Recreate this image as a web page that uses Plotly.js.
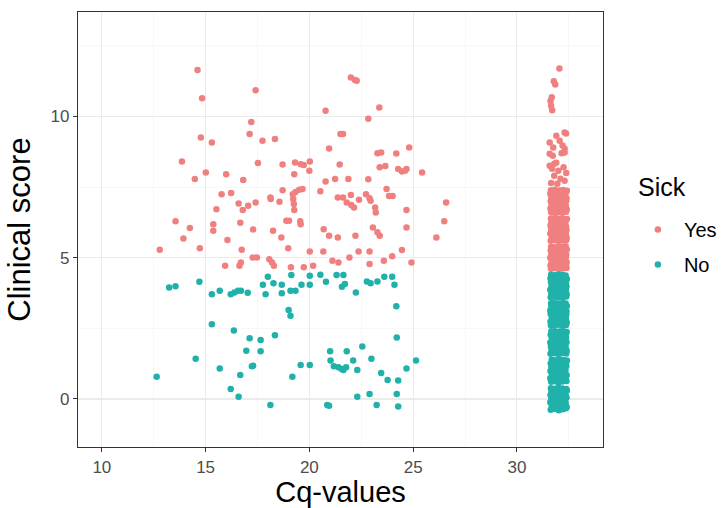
<!DOCTYPE html>
<html>
<head>
<meta charset="utf-8">
<script src="https://cdn.plot.ly/plotly-3.0.1.min.js"></script>
<style>html,body{margin:0;padding:0;background:#fff;}#chart{width:723px;height:508px;}</style>
</head>
<body>
<div id="chart"></div>
<script>
// Sick = Yes, samples with a measured Cq
const yesCq = [14.61,14.83,17.41,22.0,22.2,22.28,20.78,23.37,17.2,22.84,14.77,15.3,17.12,17.74,18.34,21.5,21.62,20.95,24.81,13.86,17.52,18.71,19.31,19.58,19.73,20.02,20.0,21.46,23.28,23.46,24.19,23.39,23.66,24.28,24.46,24.61,24.68,25.43,15.01,15.99,14.48,16.81,19.27,20.78,21.24,21.88,22.84,15.77,16.23,16.59,16.79,17.05,17.41,18.12,18.14,18.56,18.71,19.2,19.33,19.51,19.67,19.22,19.25,19.27,20.53,21.37,21.62,22.0,21.8,22.02,22.15,22.39,22.73,22.9,22.95,23.17,23.2,23.72,23.84,24.01,24.68,26.59,26.5,26.12,15.52,13.55,14.24,13.93,15.37,15.37,16.67,17.29,16.05,18.25,18.65,18.89,19.02,19.56,19.58,20.69,20.95,21.37,22.22,23.06,23.28,23.39,24.68,12.79,14.72,16.74,16.7,16.63,17.27,17.47,18.07,18.2,18.29,15.94,18.98,19.11,19.73,20.02,20.18,20.67,21.11,21.4,21.93,22.37,22.9,22.9,23.59,23.99,24.46,24.92];
const yesScore = [11.65,10.65,10.93,11.38,11.29,11.27,10.2,10.32,9.81,9.92,9.26,9.08,9.38,9.14,9.20,9.38,9.38,8.87,8.90,8.41,8.35,8.30,8.37,8.31,8.28,8.41,8.08,8.30,8.70,8.73,8.69,8.20,8.25,8.14,8.05,8.08,8.14,8.02,8.02,7.96,7.79,7.75,7.96,7.70,7.79,7.79,7.78,7.25,7.29,6.92,6.69,6.84,6.96,7.13,7.08,6.98,7.39,7.25,7.33,7.41,7.43,7.08,6.9,6.69,7.35,7.13,7.13,7.22,6.96,6.87,6.78,7.05,7.25,7.11,7.02,6.78,6.6,7.43,7.19,7.19,6.69,6.96,6.29,5.72,6.72,6.29,6.05,5.68,6.19,5.96,6.24,6.00,5.63,5.96,5.72,6.31,6.31,6.29,6.19,6.01,5.78,5.72,5.78,6.07,5.9,5.78,6.07,5.28,5.34,5.28,4.83,4.72,5.01,5.01,4.95,4.83,4.72,4.72,5.34,4.66,4.66,5.22,4.72,5.22,4.89,4.83,5.01,5.22,5.22,4.78,4.89,5.05,5.27,4.83];

// Sick = Yes, samples without amplification (plotted near Cq 32)
const yesCqUndet = [
31.64,31.81,32.02,32.22,32.39,31.62,31.86,32.05,32.19,32.37,31.67,31.83,32.00,32.25,32.40,31.61,31.88,32.04,32.20,32.36,31.66,31.80,32.07,32.23,32.38,31.63,31.85,31.99,32.18,32.41,31.65,31.82,32.03,32.21,32.35,
31.63,31.84,32.01,32.20,32.38,31.68,31.82,32.06,32.23,32.40,31.61,31.87,32.03,32.18,32.36,31.65,31.80,32.00,32.24,32.39,31.62,31.85,32.05,32.21,32.37,31.66,31.83,32.02,32.26,32.35,31.64,31.86,32.04,32.19,32.41,
31.65,31.83,32.03,32.21,32.37,31.62,31.86,32.00,32.24,32.40,31.67,31.81,32.05,32.19,32.36,31.63,31.88,32.02,32.22,32.38,31.66,31.84,32.06,32.20,32.39,31.61,31.85,32.01,32.25,32.35,31.64,31.82,32.04,32.23,32.41,
31.80,32.10,32.30,32.00,31.70,31.58,31.80,31.90,32.25,31.65,32.38,31.95,
32.30,31.90,31.58,32.06,32.20,32.30,31.58,31.73,32.37,31.75,32.15,32.30,
31.65,31.70,31.62,31.68,31.78,31.85,32.05];
const yesScoreUndet = [
4.61,4.63,4.60,4.62,4.64,4.73,4.75,4.72,4.74,4.71,4.86,4.88,4.85,4.87,4.84,5.00,4.98,5.01,4.99,5.02,5.13,5.15,5.12,5.14,5.11,5.26,5.28,5.25,5.27,5.29,5.39,5.37,5.40,5.38,5.41,
5.60,5.62,5.59,5.61,5.63,5.74,5.72,5.75,5.73,5.71,5.86,5.88,5.85,5.87,5.84,6.00,6.02,5.99,6.01,5.98,6.14,6.12,6.15,6.13,6.11,6.27,6.25,6.28,6.26,6.29,6.39,6.41,6.38,6.40,6.37,
6.61,6.59,6.62,6.60,6.63,6.74,6.72,6.75,6.73,6.71,6.86,6.88,6.85,6.87,6.84,7.00,6.98,7.01,6.99,7.02,7.13,7.15,7.12,7.14,7.11,7.27,7.25,7.28,7.26,7.29,7.39,7.41,7.38,7.40,7.37,
7.90,7.80,7.73,8.08,8.15,8.26,8.33,8.36,8.20,7.65,8.00,7.62,
9.43,9.32,9.08,9.14,8.97,8.86,8.68,8.61,9.40,8.90,8.70,8.73,
10.38,10.22,10.55,10.68,11.25,11.13,11.70];

// Sick = No, samples with a measured Cq
const noCq = [12.64,13.24,13.55,14.7,14.52,15.3,15.68,15.3,15.68,16.21,16.39,16.56,16.7,16.36,16.21,16.67,16.59,17.03,16.96,17.12,17.23,17.29,17.65,17.65,17.76,17.89,18.0,18.12,18.27,18.34,18.67,18.67,19.09,19.33,19.0,19.09,19.13,19.18,19.58,19.62,20.02,20.02,20.02,20.53,20.8,21.0,21.02,20.86,20.95,21.31,21.64,21.18,21.4,21.55,21.64,21.77,21.57,21.71,21.8,22.11,22.24,22.31,22.31,22.55,22.77,22.95,22.99,22.9,23.24,23.28,23.46,23.61,23.99,24.1,23.77,24.19,24.21,24.28,24.21,24.28,24.68,25.14];
const noScore = [0.79,3.95,3.99,4.15,1.42,3.71,3.83,2.65,1.08,3.71,3.77,3.83,3.83,2.42,0.35,0.85,0.08,3.76,1.71,2.15,1.16,1.18,2.09,1.69,4.04,3.71,4.33,-0.21,4.10,2.26,4.04,3.74,3.83,3.83,3.15,2.95,4.39,0.79,1.20,4.04,4.36,4.04,1.20,4.40,4.15,1.69,1.36,-0.21,-0.24,4.39,4.39,1.16,1.12,1.06,1.03,1.12,3.97,4.07,1.69,1.36,3.77,0.08,1.03,1.86,4.16,4.10,1.42,0.18,-0.21,4.16,0.92,4.33,4.33,4.04,0.67,3.28,2.18,0.65,0.18,-0.27,1.08,1.36];

// Sick = No, samples without amplification (plotted near Cq 32)
const noCqUndet = [
31.63,31.80,32.02,32.21,32.37,31.68,31.88,32.07,32.26,32.40,31.61,31.79,31.97,32.17,32.35,31.66,31.86,32.04,32.23,32.39,31.62,31.82,31.99,32.19,32.36,31.67,31.87,32.06,32.24,32.41,31.64,31.83,32.01,32.20,32.38,
31.65,31.84,32.00,32.18,32.39,31.61,31.81,32.05,32.22,32.36,31.69,31.85,32.03,32.25,32.40,31.62,31.78,31.96,32.16,32.34,31.66,31.89,32.08,32.27,32.38,31.63,31.80,32.02,32.21,32.37,31.68,31.86,32.04,32.23,32.41,
31.62,31.83,32.01,32.20,32.38,31.67,31.87,32.06,32.24,32.40,31.64,31.79,31.98,32.18,32.35,31.61,31.85,32.03,32.22,32.39,31.69,31.88,32.07,32.26,32.37,31.63,31.81,32.00,32.19,32.36,31.66,31.84,32.05,32.21,32.40,
31.64,31.82,32.04,32.23,32.37,31.62,31.86,32.01,32.19,32.40,31.68,31.80,31.99,32.20,32.36,31.63,31.87,32.06,32.25,32.38,31.61,31.84,32.02,32.17,32.39,31.66,31.85,32.05,32.24,32.41,31.65,31.81,32.00,32.22,32.35,
31.63,31.85,32.03,32.21,32.38,31.66,31.80,32.00,32.24,32.40,31.61,31.83,32.06,32.18,32.36,31.67,31.88,32.02,32.22,32.39,31.64,31.82,31.98,32.19,32.37,31.62,31.86,32.05,32.25,32.41,31.65,31.84,32.01,32.20,32.35];
const noScoreUndet = [
-0.38,-0.35,-0.40,-0.36,-0.33,-0.24,-0.27,-0.22,-0.26,-0.28,-0.12,-0.15,-0.10,-0.14,-0.13,0.01,-0.02,0.03,0.00,0.04,0.14,0.12,0.16,0.13,0.11,0.27,0.29,0.25,0.28,0.30,0.38,0.36,0.40,0.37,0.35,
0.61,0.63,0.59,0.62,0.64,0.73,0.71,0.75,0.72,0.74,0.87,0.85,0.88,0.86,0.84,0.99,1.02,0.98,1.01,1.00,1.13,1.15,1.12,1.14,1.16,1.26,1.28,1.25,1.29,1.27,1.39,1.37,1.41,1.38,1.36,
1.60,1.62,1.59,1.63,1.61,1.74,1.72,1.76,1.73,1.71,1.86,1.88,1.85,1.87,1.84,2.00,1.98,2.02,1.99,2.01,2.14,2.12,2.15,2.13,2.16,2.27,2.25,2.28,2.26,2.29,2.40,2.38,2.39,2.41,2.37,
2.61,2.59,2.63,2.60,2.62,2.73,2.75,2.72,2.74,2.71,2.87,2.85,2.86,2.88,2.84,3.01,2.99,3.02,3.00,2.98,3.13,3.15,3.12,3.14,3.11,3.27,3.25,3.28,3.26,3.29,3.39,3.41,3.37,3.40,3.38,
3.60,3.62,3.59,3.61,3.63,3.74,3.72,3.75,3.73,3.71,3.87,3.85,3.88,3.86,3.84,4.00,4.02,3.99,4.01,3.98,4.14,4.12,4.15,4.13,4.11,4.27,4.29,4.26,4.28,4.25,4.40,4.38,4.41,4.39,4.37];

const groupNames = ['Yes', 'No'];
const legendTitle = 'Sick';
const xTicks = [10, 15, 20, 25, 30];
const yTicks = [0, 5, 10];

const FONT = 'Liberation Sans, Arial, sans-serif';
const traces = [
  {x: yesCq.concat(yesCqUndet), y: yesScore.concat(yesScoreUndet), name: groupNames[0], legendgroup: 'g1',
   type: 'scatter', mode: 'markers', marker: {color: '#F08080', size: 6.5}},
  {x: noCq.concat(noCqUndet), y: noScore.concat(noScoreUndet), name: groupNames[1], legendgroup: 'g2',
   type: 'scatter', mode: 'markers', marker: {color: '#20B2AA', size: 6.5}}
];

const axisCommon = {
  showgrid: true, gridcolor: '#EBEBEB', gridwidth: 1.1, zeroline: false,
  showline: true, mirror: true, linecolor: '#333333', linewidth: 1.2,
  ticks: 'outside', ticklen: 4, tickcolor: '#333333', tickwidth: 1,
  tickfont: {family: FONT, size: 17, color: '#4D4D4D'}
};

const layout = {
  width: 723, height: 508,
  margin: {l: 78, r: 120, t: 12, b: 61, autoexpand: false},
  paper_bgcolor: '#FFFFFF', plot_bgcolor: '#FFFFFF',
  font: {family: FONT},
  xaxis: Object.assign({}, axisCommon, {
    range: [8.85, 34.15], tickvals: xTicks, ticktext: xTicks.map(String),
    minor: {dtick: 2.5, tick0: 10, showgrid: true, gridcolor: '#F2F2F2', gridwidth: 0.6, ticks: ''},
    title: {text: 'Cq-values', font: {family: FONT, size: 29, color: '#000000'}, standoff: 8}
  }),
  yaxis: Object.assign({}, axisCommon, {
    range: [-1.7, 13.7], tickvals: yTicks, ticktext: yTicks.map(String),
    minor: {dtick: 2.5, tick0: 0, showgrid: true, gridcolor: '#F2F2F2', gridwidth: 0.6, ticks: ''},
    title: {text: 'Clinical score', font: {family: FONT, size: 31, color: '#000000'}, standoff: 10}
  }),
  showlegend: true,
  legend: {
    x: 1.055, xanchor: 'left', y: 0.545, yanchor: 'top',
    bgcolor: 'rgba(0,0,0,0)', borderwidth: 0,
    font: {family: FONT, size: 20, color: '#000000'},
    itemwidth: 42,
    tracegroupgap: 6, itemsizing: 'trace'
  },
  annotations: [{
    xref: 'paper', yref: 'paper', x: 1.062, y: 0.597, xanchor: 'left', yanchor: 'middle',
    text: legendTitle, showarrow: false, font: {family: FONT, size: 25, color: '#000000'}
  }]
};

Plotly.newPlot('chart', traces, layout, {displayModeBar: false, staticPlot: true});
</script>
</body>
</html>
